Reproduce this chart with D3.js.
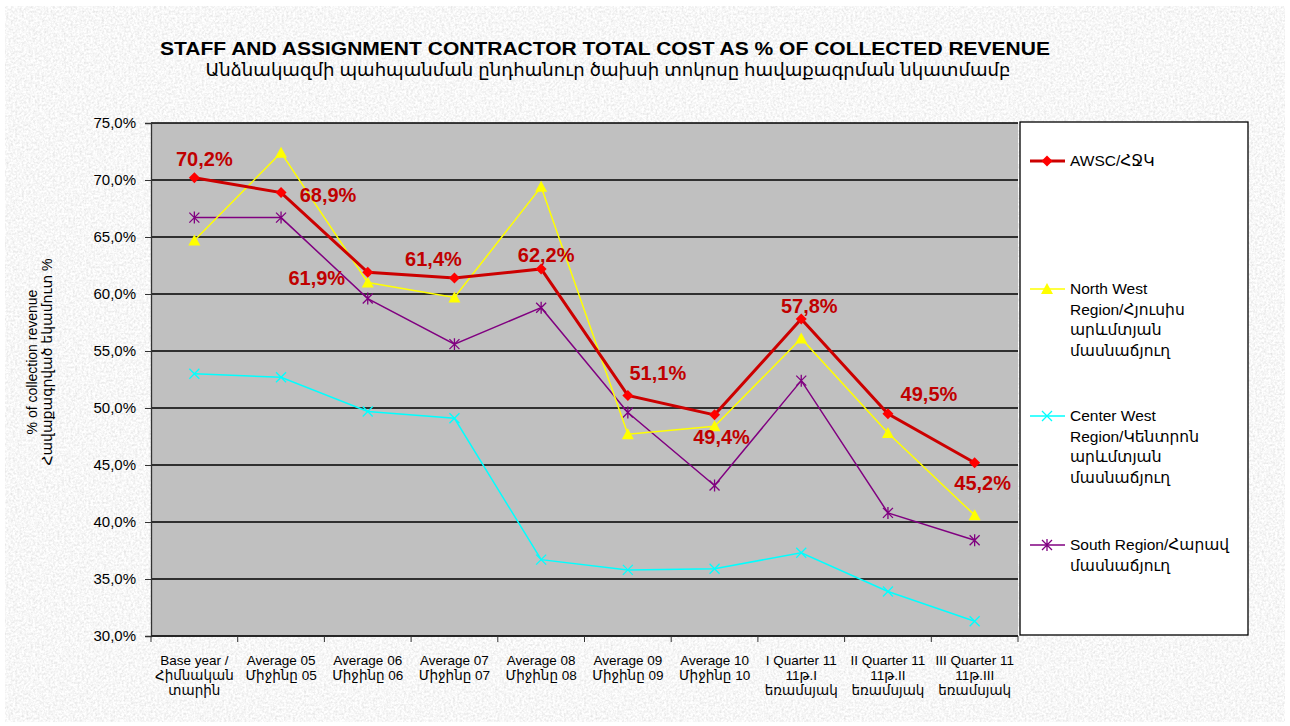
<!DOCTYPE html>
<html>
<head>
<meta charset="utf-8">
<script src="https://cdn.jsdelivr.net/npm/d3@7"></script>
<style>
  body { margin: 0; background: #fff; }
  text { font-family: "Liberation Sans", "DejaVu Sans", sans-serif; }
</style>
</head>
<body>
<svg id="chart"></svg>
<script>
const categories = [
  ["Base year /", "Հիմնական", "տարին"],
  ["Average 05", "Միջինը 05"],
  ["Average 06", "Միջինը 06"],
  ["Average 07", "Միջինը 07"],
  ["Average 08", "Միջինը 08"],
  ["Average 09", "Միջինը 09"],
  ["Average 10", "Միջինը 10"],
  ["I Quarter 11", "11թ.I", "եռամսյակ"],
  ["II Quarter 11", "11թ.II", "եռամսյակ"],
  ["III Quarter 11", "11թ.III", "եռամսյակ"]
];
const awsc = [70.2, 68.9, 61.9, 61.4, 62.2, 51.1, 49.4, 57.8, 49.5, 45.2];
const northWest = [64.7, 72.4, 61.0, 59.7, 69.4, 47.7, 48.4, 56.1, 47.8, 40.6];
const centerWest = [53.0, 52.7, 49.7, 49.1, 36.7, 35.8, 35.9, 37.3, 33.9, 31.3];
const south = [66.7, 66.7, 59.6, 55.6, 58.8, 49.6, 43.2, 52.4, 40.8, 38.4];
const yTicks = [30, 35, 40, 45, 50, 55, 60, 65, 70, 75];

// where each AWSC value label sits relative to its point
const labelOffsets = [[10, -12], [47, 9], [-51, 13], [-21, -12], [5, -7], [30, -15], [7, 29], [8, -6], [41, -13], [8, 27]];

const width = 1290;
const height = 726;
const plot = { left: 151, right: 1018, top: 123, bottom: 636 };

const svg = d3.select("#chart").attr("width", width).attr("height", height);

// marble-ish background
const defs = svg.append("defs");
const f = defs.append("filter").attr("id", "marble").attr("x", 0).attr("y", 0).attr("width", "100%").attr("height", "100%");
f.append("feTurbulence").attr("type", "fractalNoise").attr("baseFrequency", 0.45).attr("numOctaves", 3).attr("seed", 4);
f.append("feColorMatrix").attr("type", "matrix")
  .attr("values", "0.4 0 0 0 0.73  0.4 0 0 0 0.73  0.4 0 0 0 0.73  0 0 0 0 1");

svg.append("rect").attr("x", 5).attr("y", 6).attr("width", 1280).attr("height", 716)
  .attr("filter", "url(#marble)");

const x = d3.scaleBand().domain(d3.range(categories.length)).range([plot.left, plot.right]);
const y = d3.scaleLinear().domain([30, 75]).range([plot.bottom, plot.top]);
const cx = (i) => x(i) + x.bandwidth() / 2;

// plot area
svg.append("rect")
  .attr("x", plot.left).attr("y", plot.top)
  .attr("width", plot.right - plot.left).attr("height", plot.bottom - plot.top)
  .attr("fill", "#c0c0c0");

svg.append("g").selectAll("line").data(yTicks).join("line")
  .attr("x1", plot.left).attr("x2", plot.right)
  .attr("y1", (d) => y(d)).attr("y2", (d) => y(d))
  .attr("stroke", "#000").attr("stroke-width", 1.3);

// y axis
const yAxis = svg.append("g")
  .attr("transform", `translate(${plot.left},0)`)
  .call(d3.axisLeft(y).tickValues(yTicks).tickSize(6).tickPadding(9)
    .tickFormat((d) => d.toFixed(1).replace(".", ",") + "%"));
yAxis.select(".domain").attr("stroke", "#333").attr("stroke-width", 1.3);
yAxis.selectAll(".tick line").attr("stroke", "#333");
yAxis.selectAll("text").attr("font-size", 15).attr("fill", "#000")
  .attr("font-family", "Liberation Sans, sans-serif");

// x axis (ticks between categories)
svg.append("line").attr("x1", plot.left).attr("x2", plot.right)
  .attr("y1", plot.bottom).attr("y2", plot.bottom).attr("stroke", "#222").attr("stroke-width", 1.5);
svg.append("g").selectAll("line").data(d3.range(categories.length + 1)).join("line")
  .attr("x1", (i) => plot.left + x.step() * i).attr("x2", (i) => plot.left + x.step() * i)
  .attr("y1", plot.bottom).attr("y2", plot.bottom + 6).attr("stroke", "#333");

const xl = svg.append("g").selectAll("text").data(categories).join("text")
  .attr("x", (d, i) => cx(i)).attr("y", 665)
  .attr("text-anchor", "middle").attr("font-size", 13.5)
  .attr("font-family", "Liberation Sans Narrow, Liberation Sans, DejaVu Sans Condensed, sans-serif");
xl.selectAll("tspan").data((d) => d).join("tspan")
  .attr("x", function () { return this.parentNode.getAttribute("x"); })
  .attr("dy", (d, i) => (i === 0 ? 0 : 15))
  .text((d) => d);

// series
const series = [
  { name: ["AWSC/ՀՋԿ"], values: awsc, color: "#cc0000", marker: "#ff0000", width: 3, shape: "diamond" },
  { name: ["North West", "Region/Հյուսիս", "արևմտյան", "մասնաճյուղ"], values: northWest, color: "#ffff00", marker: "#ffff00", width: 1.5, shape: "triangle" },
  { name: ["Center West", "Region/Կենտրոն", "արևմտյան", "մասնաճյուղ"], values: centerWest, color: "#00ffff", marker: "#00ffff", width: 1.5, shape: "cross" },
  { name: ["South Region/Հարավ", "մասնաճյուղ"], values: south, color: "#800080", marker: "#800080", width: 1.5, shape: "star" }
];

const line = d3.line().x((d, i) => cx(i)).y((d) => y(d));

function drawMarker(g, shape, color) {
  if (shape === "diamond") {
    g.append("path").attr("d", "M0,-5.5L5.5,0L0,5.5L-5.5,0Z").attr("fill", color);
  } else if (shape === "triangle") {
    g.append("path").attr("d", "M0,-6L6,5L-6,5Z").attr("fill", color);
  } else if (shape === "cross") {
    g.append("path").attr("d", "M-5,-5L5,5M-5,5L5,-5").attr("stroke", color).attr("stroke-width", 1.3);
  } else {
    g.append("path").attr("d", "M-5,-5L5,5M-5,5L5,-5M0,-6L0,6").attr("stroke", color).attr("stroke-width", 1.3);
  }
}

// draw back to front: south, center, north, awsc
[3, 2, 1, 0].forEach((k) => {
  const s = series[k];
  svg.append("path").datum(s.values).attr("d", line)
    .attr("fill", "none").attr("stroke", s.color).attr("stroke-width", s.width)
    .attr("stroke-linejoin", "miter");
  s.values.forEach((v, i) => {
    const g = svg.append("g").attr("transform", `translate(${cx(i)},${y(v)})`);
    drawMarker(g, s.shape, s.marker);
  });
});

// value labels for AWSC
svg.append("g").selectAll("text").data(awsc).join("text")
  .attr("x", (d, i) => cx(i) + labelOffsets[i][0])
  .attr("y", (d, i) => y(d) + labelOffsets[i][1])
  .attr("text-anchor", "middle").attr("font-size", 20).attr("font-weight", "bold")
  .attr("fill", "#c00000")
  .text((d) => d.toFixed(1).replace(".", ",") + "%");

// legend
svg.append("rect").attr("x", 1020).attr("y", 122).attr("width", 228).attr("height", 513)
  .attr("fill", "#fff").attr("stroke", "#000").attr("stroke-width", 1.3);
const legendY = [161, 289, 416, 545];
series.forEach((s, k) => {
  const ly = legendY[k];
  svg.append("line").attr("x1", 1030).attr("x2", 1065).attr("y1", ly).attr("y2", ly)
    .attr("stroke", s.color).attr("stroke-width", s.width);
  drawMarker(svg.append("g").attr("transform", `translate(1047,${ly})`), s.shape, s.marker);
  const t = svg.append("text").attr("x", 1070).attr("y", ly + 5).attr("font-size", 15.5);
  t.selectAll("tspan").data(s.name).join("tspan")
    .attr("x", 1070).attr("dy", (d, i) => (i === 0 ? 0 : 20.5)).text((d) => d);
});

// y axis title
const yt = svg.append("text").attr("transform", "translate(37,362) rotate(-90)")
  .attr("text-anchor", "middle").attr("font-size", 14);
yt.append("tspan").attr("x", 0).attr("dy", 0).text("% of collection revenue");
yt.append("tspan").attr("x", 0).attr("dy", 14.5).text("Հավաքագրված եկամուտ %");

// title
svg.append("text").attr("x", 605).attr("y", 55).attr("text-anchor", "middle")
  .attr("font-size", 18).attr("font-weight", "bold")
  .attr("font-family", "Liberation Sans Narrow, Liberation Sans, sans-serif")
  .attr("textLength", 890).attr("lengthAdjust", "spacingAndGlyphs")
  .text("STAFF AND ASSIGNMENT CONTRACTOR TOTAL COST AS % OF COLLECTED REVENUE");
svg.append("text").attr("x", 608).attr("y", 76).attr("text-anchor", "middle")
  .attr("font-size", 17)
  .attr("font-family", "DejaVu Sans Condensed, DejaVu Sans, sans-serif")
  .attr("textLength", 805).attr("lengthAdjust", "spacingAndGlyphs")
  .text("Անձնակազմի պահպանման ընդհանուր ծախսի տոկոսը հավաքագրման   նկատմամբ");
</script>
</body>
</html>
